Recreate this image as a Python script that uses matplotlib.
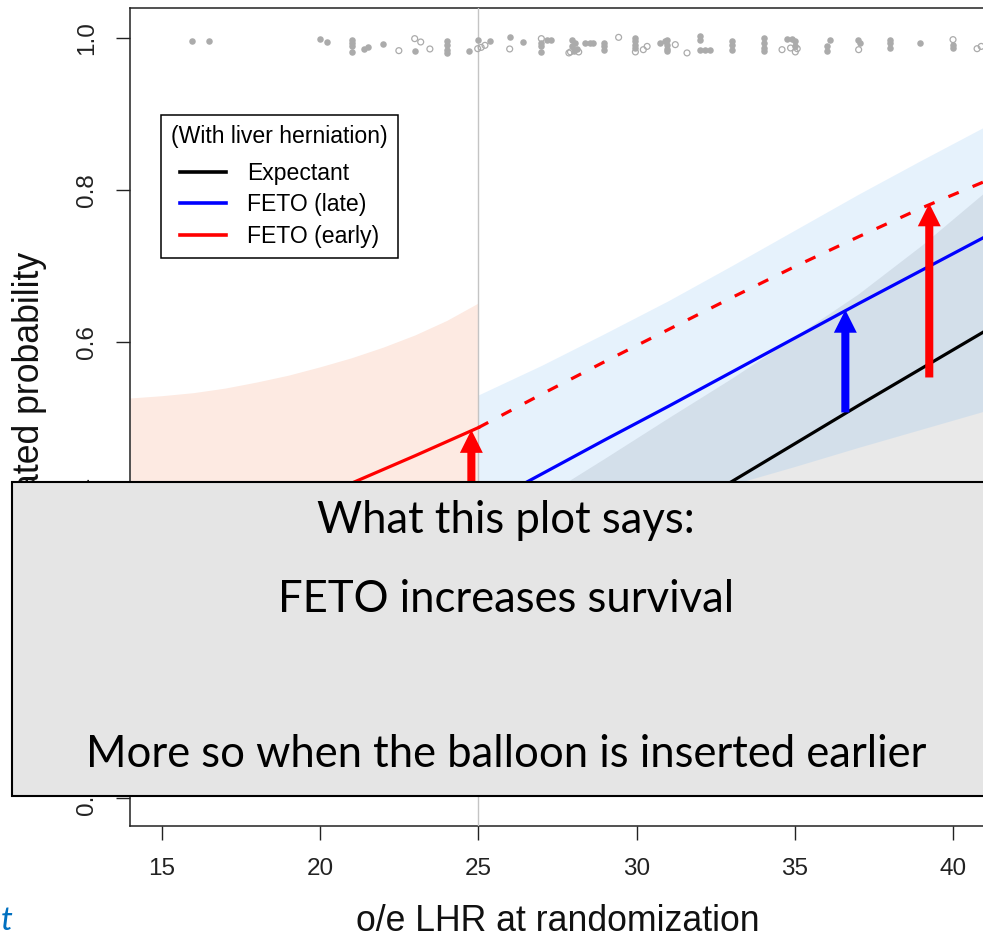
import numpy as np
import matplotlib.pyplot as plt
from matplotlib.patches import Rectangle, FancyArrowPatch

# o/e LHR grid and fitted probabilities
lhr = [14, 15, 17, 19, 21, 23, 25, 27, 29, 31, 33, 35, 37, 39, 41]
expectant = [0.09, 0.10, 0.125, 0.15, 0.18, 0.212, 0.247, 0.285, 0.326, 0.370,
             0.416, 0.466, 0.516, 0.565, 0.614]
feto_late = [0.17, 0.185, 0.22, 0.25, 0.29, 0.335, 0.381, 0.426, 0.471, 0.515,
             0.560, 0.605, 0.650, 0.694, 0.738]
feto_early = [0.30, 0.315, 0.345, 0.378, 0.414, 0.45, 0.487, 0.531, 0.574, 0.616,
              0.658, 0.699, 0.738, 0.776, 0.811]

# confidence bands
exp_lo = [0.02, 0.025, 0.035, 0.05, 0.07, 0.09, 0.115, 0.145, 0.18, 0.22,
          0.26, 0.30, 0.34, 0.37, 0.40]
exp_hi = [0.17, 0.18, 0.20, 0.23, 0.26, 0.30, 0.345, 0.395, 0.447, 0.500,
          0.552, 0.607, 0.663, 0.727, 0.797]
early_band_x = [14, 15, 16, 17, 18, 19, 20, 21, 22, 23, 24, 25]
early_lo = [0.12, 0.125, 0.13, 0.14, 0.15, 0.165, 0.18, 0.195, 0.21, 0.235, 0.26, 0.33]
early_hi = [0.526, 0.529, 0.533, 0.539, 0.547, 0.556, 0.567, 0.579, 0.593, 0.609,
            0.628, 0.651]
late_band_x = [25, 27, 29, 31, 33, 35, 37, 39, 41]
late_lo = [0.300, 0.330, 0.360, 0.388, 0.412, 0.436, 0.461, 0.485, 0.509]
late_hi = [0.530, 0.569, 0.611, 0.654, 0.700, 0.747, 0.794, 0.839, 0.883]

# observed cases (jittered at the top)
filled_x = [15.97, 16.49, 19.99, 20.23, 21.00, 21.00, 21.00, 21.00, 21.39, 21.51,
            22.00, 22.99, 24.00, 24.00, 24.00, 24.00, 24.71, 24.98, 25.36, 25.99,
            26.42, 26.99, 26.99, 26.99, 27.18, 27.30, 27.96, 28.04, 27.96, 28.10,
            28.01, 28.38, 28.52, 28.63, 28.96, 28.96, 28.96, 29.96, 29.96, 29.96,
            29.96, 30.75, 30.89, 30.96, 30.96, 30.96, 30.96, 31.99, 31.99, 31.99,
            32.15, 32.33, 33.01, 33.01, 33.01, 34.01, 34.01, 34.01, 34.01, 34.75,
            34.91, 35.01, 35.01, 36.10, 36.01, 36.01, 36.98, 37.06, 37.99, 37.99,
            37.99, 38.96, 39.99, 39.99]
filled_y = [0.9961, 0.9961, 0.9987, 0.9943, 0.9974, 0.9930, 0.9895, 0.9807, 0.9855, 0.9877,
            0.9917, 0.9829, 0.9951, 0.9908, 0.9842, 0.9799, 0.9829, 0.9974, 0.9951, 1.0004,
            0.9943, 0.9930, 0.9885, 0.9807, 0.9964, 0.9964, 0.9974, 0.9930, 0.9885, 0.9855,
            0.9820, 0.9930, 0.9930, 0.9930, 0.9930, 0.9885, 0.9842, 0.9996, 0.9951, 0.9908,
            0.9864, 0.9930, 0.9951, 0.9974, 0.9908, 0.9855, 0.9820, 1.0017, 0.9974, 0.9842,
            0.9842, 0.9842, 0.9961, 0.9908, 0.9842, 0.9996, 0.9930, 0.9864, 0.9820, 0.9987,
            0.9987, 0.9951, 0.9885, 0.9974, 0.9885, 0.9820, 0.9974, 0.9930, 0.9974, 0.9930,
            0.9864, 0.9930, 0.9908, 0.9864]
open_x = [22.49, 22.99, 23.18, 23.47, 24.98, 25.09, 25.21, 25.99, 26.99, 27.86,
          27.91, 28.17, 29.43, 29.96, 30.21, 30.33, 31.22, 31.59, 34.59, 34.86,
          35.01, 35.07, 37.01, 39.99, 40.75, 40.88]
open_y = [0.9829, 0.9987, 0.9943, 0.9851, 0.9855, 0.9872, 0.9899, 0.9851, 0.9987, 0.9799,
          0.9812, 0.9812, 1.0004, 0.9812, 0.9842, 0.9885, 0.9908, 0.9799, 0.9842, 0.9864,
          0.9812, 0.9855, 0.9842, 0.9974, 0.9855, 0.9885]

# effect arrows
arrow_x = [24.78, 36.59, 39.24]
arrow_from = [0.24, 0.507, 0.553]
arrow_to = [0.484, 0.642, 0.782]
arrow_col = ['#FF0000', '#0000FF', '#FF0000']

plt.rcParams['font.family'] = 'Liberation Sans'
fig = plt.figure(figsize=(9.83, 9.40), dpi=100)
ax = fig.add_axes([130 / 983, 1 - 826 / 940, 855 / 983, 818 / 940])

ax.fill_between(lhr, exp_lo, exp_hi, color='#E9E9E9', lw=0, zorder=1)
ax.fill_between(early_band_x, early_lo, early_hi, color='#FDEAE2', lw=0, zorder=1)
ax.fill_between(late_band_x, late_lo, late_hi, color=(108 / 255, 179 / 255, 243 / 255),
                alpha=0.17, lw=0, zorder=2)
ax.axvline(25, color='#C4C4C4', lw=1.0, zorder=3)

x = np.array(lhr)
early = np.array(feto_early)
ax.plot(lhr, expectant, color='black', lw=2.3, zorder=4)
ax.plot(lhr, feto_late, color='#0000FF', lw=2.3, zorder=4)
ax.plot(x[x <= 25], early[x <= 25], color='#FF0000', lw=2.3, zorder=4)
ax.plot(x[x >= 25], early[x >= 25], color='#FF0000', lw=2.3,
        ls=(0, (3.5, 4.7)), zorder=4)

for xa, y0, y1, c in zip(arrow_x, arrow_from, arrow_to, arrow_col):
    ax.add_patch(FancyArrowPatch((xa, y0), (xa, y1),
                                 arrowstyle='simple,head_length=16.5,head_width=16.5,tail_width=5.8',
                                 mutation_scale=1, color=c, lw=0, shrinkA=0, shrinkB=0,
                                 zorder=5))

ax.scatter(filled_x, filled_y, s=22, color='#ABABAB', lw=0, zorder=4)
ax.scatter(open_x, open_y, s=18, facecolor='none', edgecolor='#ABABAB', lw=0.9, zorder=4)

ax.set_xlim(14.0, 41.0)
ax.set_ylim(-0.037, 1.039)
ax.set_xticks([15, 20, 25, 30, 35, 40])
ax.set_yticks([0, 0.2, 0.4, 0.6, 0.8, 1.0])
ax.set_yticklabels(['0.0', '0.2', '0.4', '0.6', '0.8', '1.0'])
ax.tick_params(length=10, width=1.0, color='#222222', labelsize=17.5,
               labelcolor='#222222')
ax.tick_params(axis='x', pad=13)
ax.tick_params(axis='y', pad=21)
for lab in ax.get_yticklabels():
    lab.set_rotation(90)
    lab.set_ha('center')
    lab.set_va('center')
for side in ['left', 'bottom', 'top']:
    ax.spines[side].set_linewidth(1.1)
    ax.spines[side].set_color('#222222')
ax.spines['right'].set_visible(False)

ax.set_xlabel('o/e LHR at randomization', fontsize=25.7, color='#111111')
ax.xaxis.set_label_coords(0.5, -0.095)
ax.xaxis.label.set_va('top')
ax.set_ylabel('Estimated probability', fontsize=25.7, color='#111111')
ax.yaxis.set_label_coords(-0.097, 0.5)

handles = [plt.Line2D([0], [0], color='black', lw=2.6),
           plt.Line2D([0], [0], color='#0000FF', lw=2.6),
           plt.Line2D([0], [0], color='#FF0000', lw=2.6)]
leg = ax.legend(handles, ['Expectant', 'FETO (late)', 'FETO (early)'],
                title='(With liver herniation)', title_fontsize=16.6, fontsize=16.6,
                loc='upper left', bbox_to_anchor=(31 / 855, (826 - 115) / 818),
                borderaxespad=0, fancybox=False, framealpha=1, edgecolor='black',
                handlelength=2.0, handletextpad=0.9, labelspacing=0.37,
                borderpad=0.45)
leg._legend_box.sep = 9.6
leg.get_frame().set_linewidth(1.1)
leg.set_zorder(6)

# overlay note box
fig.add_artist(Rectangle((12 / 983, 1 - 796 / 940), 1.0, 314 / 940,
                         transform=fig.transFigure, facecolor='#E5E5E5',
                         edgecolor='black', lw=1.5, zorder=5))
note_font = 'Lato'
fig.text(506 / 983, 1 - 533 / 940, 'What this plot says:', ha='center', va='baseline',
         fontsize=31.4, family=note_font, zorder=6)
fig.text(506 / 983, 1 - 612 / 940, 'FETO increases survival', ha='center', va='baseline',
         fontsize=31.4, family=note_font, zorder=6)
fig.text(506 / 983, 1 - 767 / 940, 'More so when the balloon is inserted earlier',
         ha='center', va='baseline', fontsize=31.4, family=note_font, zorder=6)

fig.text(1 / 983, 1 - 930 / 940, 't', ha='left', va='baseline', fontsize=24,
         style='italic', color='#0070C0', family='Lato')

fig.savefig('out.png', dpi=100)
